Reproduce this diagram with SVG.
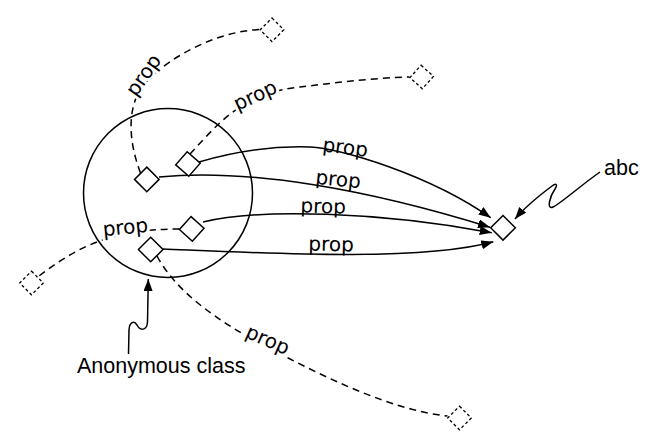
<svg xmlns="http://www.w3.org/2000/svg" width="652" height="445" viewBox="0 0 652 445">
<defs>
<style>
.solid{fill:none;stroke:#000;stroke-width:1.5}
.dash{fill:none;stroke:#000;stroke-width:1.5;stroke-dasharray:7 5}
.node{fill:#fff;stroke:#000;stroke-width:1.5}
.ghost{fill:#fff;stroke:#000;stroke-width:1.3;stroke-dasharray:3 2.5}
.lbl{font-family:"DejaVu Sans",sans-serif;font-size:20px;fill:#000;text-anchor:middle}
.halo{stroke:#fff;stroke-width:6;paint-order:stroke;stroke-linejoin:round}
.txt{font-family:"Liberation Sans",Arial,sans-serif;font-size:21.5px;fill:#000}
</style>
<marker id="arr" markerUnits="userSpaceOnUse" markerWidth="14" markerHeight="10" refX="12" refY="4.5" orient="auto"><path d="M0,0 L12,4.5 L0,9 z" fill="#000"/></marker>
<path id="dm" d="M0,-12.3 L12.3,0 L0,12.3 L-12.3,0 Z"/>
<path id="gm" d="M0,-11.8 L11.8,0 L0,11.8 L-11.8,0 Z"/>
</defs>
<rect width="652" height="445" fill="#fff"/>
<g id="connectors-dashed">
<path class="dash" d="M140.5,173 C128,140 128,110 140,90 C152,70 205,32 260,29.5"/>
<path class="dash" d="M190,154 C205,138 220,120 240,107 S275,90 300,87 S370,78 409.5,77"/>
<path class="dash" d="M179.5,229 C160,229 130,230 97,242 C75,250 55,264 39,276"/>
<path class="dash" d="M157,256 C175,290 215,320 265,346 C320,375 390,410 447.5,416"/>
<text class="lbl halo" transform="translate(149,79) rotate(-55)">prop</text>
<text class="lbl halo" transform="translate(258,101.5) rotate(-25)">prop</text>
<text class="lbl halo" transform="translate(126,234) rotate(-6)">prop</text>
<text class="lbl halo" transform="translate(265,346) rotate(24)">prop</text>
</g>
<g id="anonymous-class">
<circle cx="168" cy="193" r="84.5" fill="none" stroke="#000" stroke-width="1.5"/>
</g>
<g id="connectors">
<path class="solid" marker-end="url(#arr)" d="M199,162 C240,150 280,146 310,147 S430,175 490.7,217.7"/>
<path class="solid" marker-end="url(#arr)" d="M159,177 C250,168 370,190 490,227.3"/>
<path class="solid" marker-end="url(#arr)" d="M203,222 C260,208 380,212 491.7,232.7"/>
<path class="solid" marker-end="url(#arr)" d="M163,249 C260,253 420,262 493.3,241.7"/>
<path class="solid" marker-end="url(#arr)" d="M600,172 C580,186 560,204 553,207 C546,210 550,196 555,189 C558,184 556,183 552,186 C540,195 525,207 515,219"/>
<path class="solid" marker-end="url(#arr)" d="M128.5,354 L129,330 C129.5,322 134,320 137,325 C140,331 147,331 147.5,322 L148.3,279"/>
</g>
<g id="labels">
<text class="lbl" transform="translate(344.5,154) rotate(7)">prop</text>
<text class="lbl" transform="translate(337.5,186) rotate(6)">prop</text>
<text class="lbl" transform="translate(323,213) rotate(2)">prop</text>
<text class="lbl" transform="translate(331,251) rotate(1)">prop</text>
</g>
<g id="node-a"><use href="#dm" class="node" transform="translate(146.8,179.4)"/></g>
<g id="node-b"><use href="#dm" class="node" transform="translate(188,164) rotate(-4)"/></g>
<g id="node-c"><use href="#dm" class="node" transform="translate(191.7,228.9) rotate(-3)"/></g>
<g id="node-d"><use href="#dm" class="node" transform="translate(150.7,249.5)"/></g>
<g id="node-abc"><use href="#dm" class="node" transform="translate(503,227.8)"/></g>
<g id="ghost-top"><use href="#gm" class="ghost" transform="translate(272,29.8)"/></g>
<g id="ghost-upper-right"><use href="#gm" class="ghost" transform="translate(421.7,77) rotate(-3)"/></g>
<g id="ghost-left"><use href="#gm" class="ghost" transform="translate(31.5,283)"/></g>
<g id="ghost-bottom"><use href="#gm" class="ghost" transform="translate(459.5,418)"/></g>
<g id="text-abc"><text class="txt" x="604" y="175">abc</text></g>
<g id="text-anonymous"><text class="txt" x="77" y="373">Anonymous class</text></g>
</svg>
